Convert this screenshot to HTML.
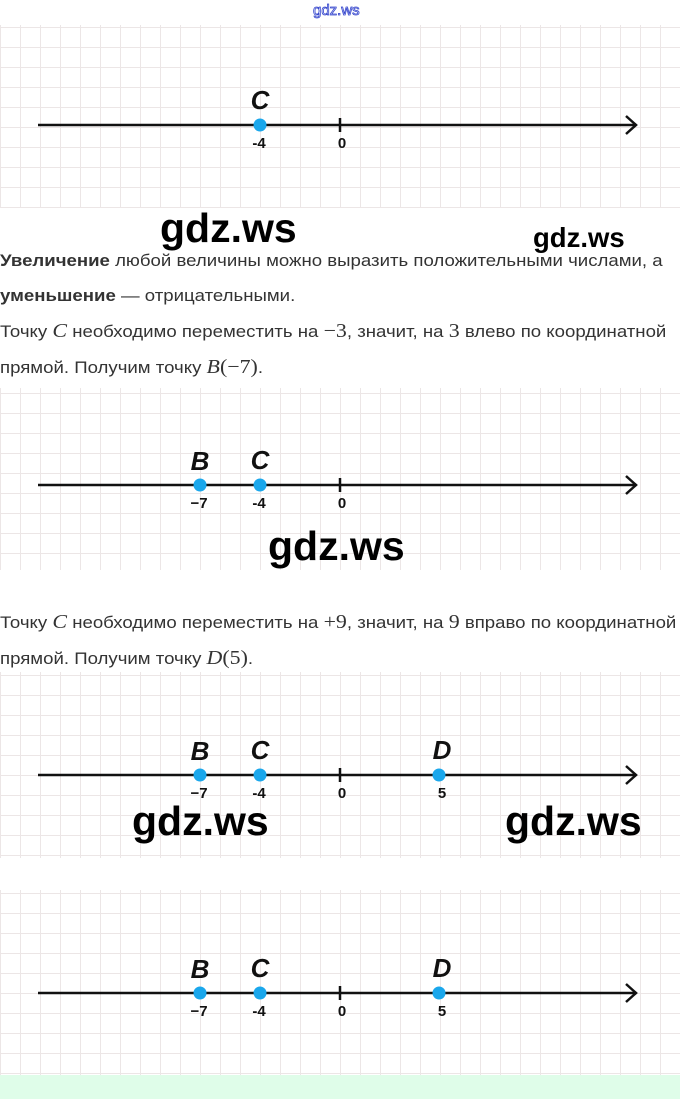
<!DOCTYPE html>
<html><head><meta charset="utf-8"><style>
body{margin:0;width:680px;height:1099px;background:#fff;position:relative;overflow:hidden;font-family:"Liberation Sans","DejaVu Sans",sans-serif;color:#333}
.panel{position:absolute;left:0;width:680px;
background-image:linear-gradient(to right,#ece6e6 1px,transparent 1px),linear-gradient(to bottom,#ece6e6 1px,transparent 1px);background-size:20px 20px}
.t{position:absolute;left:0;font-size:17px;white-space:nowrap;transform-origin:0 50%;transform:scaleX(1.095)}
.m{font-family:"Liberation Serif",serif;font-style:italic;font-size:20px}
.n{font-family:"Liberation Serif",serif;font-size:20px}
.wm{position:absolute;font-family:"Liberation Sans",sans-serif;font-weight:bold;color:#000;white-space:nowrap}
svg{position:absolute;left:0}
</style></head><body>
<div style="position:absolute;left:313px;top:2px;font-size:15px;color:#fff;-webkit-text-stroke:0.8px #3344cc;font-family:'Liberation Sans',sans-serif">gdz.ws</div>

<div class="panel" style="top:25px;height:183px;background-position:0 2px"></div>
<div class="panel" style="top:388px;height:182px;background-position:0 5px"></div>
<div class="panel" style="top:672px;height:186px;background-position:0 3px"></div>
<div class="panel" style="top:890px;height:185px;background-position:0 3px"></div>
<div style="position:absolute;left:0;top:1075px;width:680px;height:24px;background:#dffde9"></div>

<svg width="680" height="1099" viewBox="0 0 680 1099" style="top:0">
<defs>
<g id="ax">
<line x1="38" y1="0" x2="636" y2="0" stroke="#111" stroke-width="2.5"/>
<polyline points="626,-9 636,0 626,9" fill="none" stroke="#111" stroke-width="2.5"/>
<line x1="340" y1="-7" x2="340" y2="7" stroke="#111" stroke-width="2.5"/>
<text x="342" y="23" font-size="15" font-weight="bold" text-anchor="middle" fill="#111" font-family="Liberation Sans">0</text>
</g>
</defs>
<g font-family="Liberation Sans" fill="#111">
<use href="#ax" y="125"/>
<circle cx="260" cy="125" r="6.5" fill="#1aa7ec"/>
<text x="259" y="148" font-size="15" font-weight="bold" text-anchor="middle">-4</text>
<text x="260" y="109" font-size="26" font-weight="bold" font-style="italic" text-anchor="middle">C</text>

<use href="#ax" y="485"/>
<circle cx="200" cy="485" r="6.5" fill="#1aa7ec"/>
<circle cx="260" cy="485" r="6.5" fill="#1aa7ec"/>
<text x="199" y="508" font-size="15" font-weight="bold" text-anchor="middle">−7</text>
<text x="259" y="508" font-size="15" font-weight="bold" text-anchor="middle">-4</text>
<text x="200" y="470" font-size="26" font-weight="bold" font-style="italic" text-anchor="middle">B</text>
<text x="260" y="469" font-size="26" font-weight="bold" font-style="italic" text-anchor="middle">C</text>

<use href="#ax" y="775"/>
<circle cx="200" cy="775" r="6.5" fill="#1aa7ec"/>
<circle cx="260" cy="775" r="6.5" fill="#1aa7ec"/>
<circle cx="439" cy="775" r="6.5" fill="#1aa7ec"/>
<text x="199" y="798" font-size="15" font-weight="bold" text-anchor="middle">−7</text>
<text x="259" y="798" font-size="15" font-weight="bold" text-anchor="middle">-4</text>
<text x="442" y="798" font-size="15" font-weight="bold" text-anchor="middle">5</text>
<text x="200" y="760" font-size="26" font-weight="bold" font-style="italic" text-anchor="middle">B</text>
<text x="260" y="759" font-size="26" font-weight="bold" font-style="italic" text-anchor="middle">C</text>
<text x="442" y="759" font-size="26" font-weight="bold" font-style="italic" text-anchor="middle">D</text>

<use href="#ax" y="993"/>
<circle cx="200" cy="993" r="6.5" fill="#1aa7ec"/>
<circle cx="260" cy="993" r="6.5" fill="#1aa7ec"/>
<circle cx="439" cy="993" r="6.5" fill="#1aa7ec"/>
<text x="199" y="1016" font-size="15" font-weight="bold" text-anchor="middle">−7</text>
<text x="259" y="1016" font-size="15" font-weight="bold" text-anchor="middle">-4</text>
<text x="442" y="1016" font-size="15" font-weight="bold" text-anchor="middle">5</text>
<text x="200" y="978" font-size="26" font-weight="bold" font-style="italic" text-anchor="middle">B</text>
<text x="260" y="977" font-size="26" font-weight="bold" font-style="italic" text-anchor="middle">C</text>
<text x="442" y="977" font-size="26" font-weight="bold" font-style="italic" text-anchor="middle">D</text>
</g>
</svg>

<div class="t" style="top:251px"><b>Увеличение</b> любой величины можно выразить положительными числами, а</div>
<div class="t" style="top:286px"><b>уменьшение</b> — отрицательными.</div>
<div class="t" style="top:320px">Точку <span class="m">C</span> необходимо переместить на <span class="n">−3</span>, значит, на <span class="n">3</span> влево по координатной</div>
<div class="t" style="top:356px">прямой. Получим точку <span class="m">B</span><span class="n">(−7)</span>.</div>
<div class="t" style="top:611px">Точку <span class="m">C</span> необходимо переместить на <span class="n">+9</span>, значит, на <span class="n">9</span> вправо по координатной</div>
<div class="t" style="top:647px">прямой. Получим точку <span class="m">D</span><span class="n">(5)</span>.</div>

<div class="wm" style="left:160px;top:205px;font-size:41px">gdz.ws</div>
<div class="wm" style="left:533px;top:222px;font-size:27.5px">gdz.ws</div>
<div class="wm" style="left:268px;top:523px;font-size:41px">gdz.ws</div>
<div class="wm" style="left:132px;top:798px;font-size:41px">gdz.ws</div>
<div class="wm" style="left:505px;top:798px;font-size:41px">gdz.ws</div>
</body></html>
